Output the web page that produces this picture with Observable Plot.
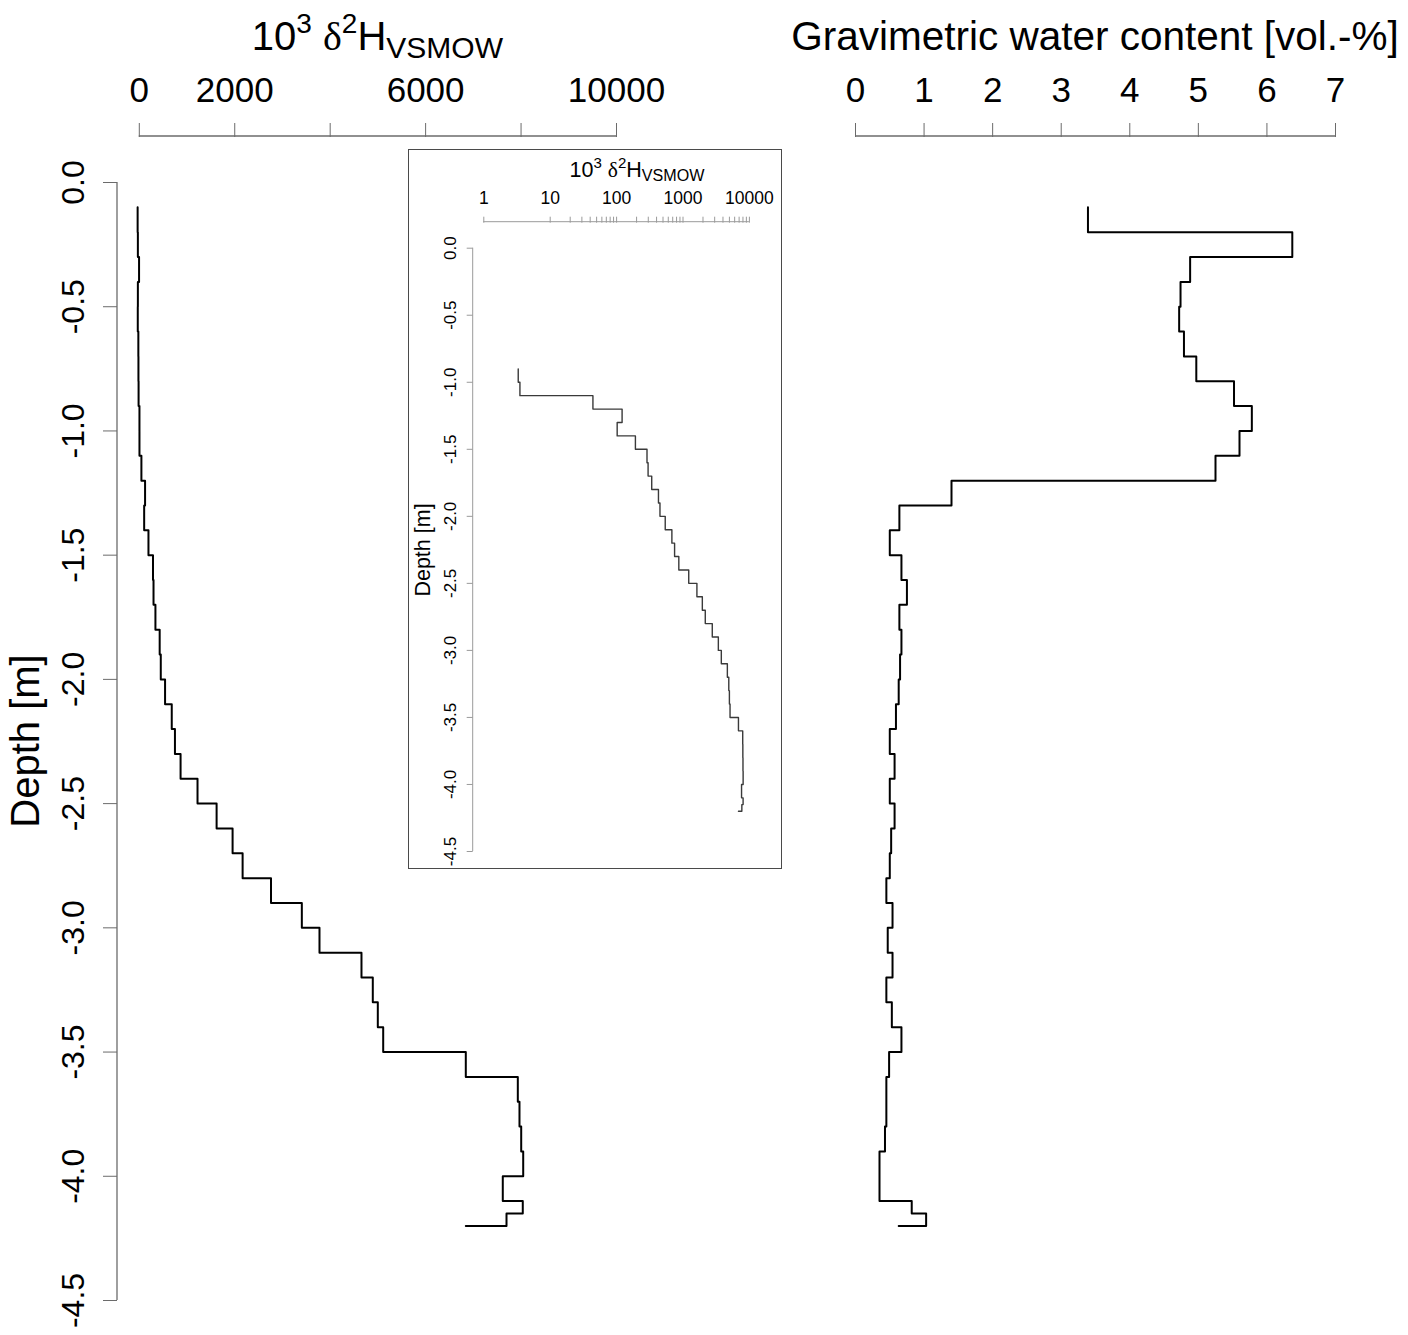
<!DOCTYPE html>
<html>
<head>
<meta charset="utf-8">
<script src="https://cdn.jsdelivr.net/npm/d3@7"></script>
<script src="https://cdn.jsdelivr.net/npm/@observablehq/plot@0.6"></script>
<style>
  html, body { margin: 0; padding: 0; background: #fff; }
  #fig { position: relative; width: 1408px; height: 1335px; overflow: hidden; background: #fff; }
  #fig svg { position: absolute; overflow: visible; }
</style>
</head>
<body>
<div id="fig"></div>
<script>
// ---------------- data ----------------
const depth = [-0.1, -0.2, -0.3, -0.4, -0.5, -0.6, -0.7, -0.8, -0.9, -1.0,
  -1.1, -1.2, -1.3, -1.4, -1.5, -1.6, -1.7, -1.8, -1.9, -2.0,
  -2.1, -2.2, -2.3, -2.4, -2.5, -2.6, -2.7, -2.8, -2.9, -3.0,
  -3.1, -3.2, -3.3, -3.4, -3.5, -3.6, -3.7, -3.8, -3.9, -4.0,
  -4.1, -4.15, -4.2];
// 10^3 delta2H VSMOW (per mil)
const isotope = [-35, -30, -5, -30, -32, -20, -18, -15, 3.3, 3.5,
  44, 121, 102, 192, 287, 298, 338, 427, 450, 540,
  680, 747, 865, 1220, 1620, 1955, 2165, 2760, 3406, 3776,
  4656, 4893, 4998, 5111, 6842, 7932, 7967, 8003, 8045, 7617,
  8036, 7695, 6842];
// gravimetric water content [vol.-%]
const water = [3.39, 6.37, 4.88, 4.74, 4.72, 4.79, 4.97, 5.52, 5.78, 5.60,
  5.25, 1.40, 0.64, 0.50, 0.67, 0.75, 0.64, 0.67, 0.65, 0.63,
  0.59, 0.50, 0.57, 0.50, 0.57, 0.52, 0.50, 0.45, 0.54, 0.47,
  0.54, 0.45, 0.53, 0.67, 0.49, 0.45, 0.45, 0.43, 0.35, 0.35,
  0.82, 1.03, 0.63];

const isoTicks = [0, 2000, 4000, 6000, 8000, 10000];
const isoTickLabels = ["0", "2000", "", "6000", "", "10000"];
const waterTicks = [0, 1, 2, 3, 4, 5, 6, 7];
const depthTicks = [0, -0.5, -1.0, -1.5, -2.0, -2.5, -3.0, -3.5, -4.0, -4.5];
const insetMajorTicks = [1, 10, 100, 1000, 10000];
const insetMinorTicks = [20, 30, 40, 50, 60, 70, 80, 90,
  200, 300, 400, 500, 600, 700, 800, 900,
  2000, 3000, 4000, 5000, 6000, 7000, 8000, 9000];

const titleIso = {base: "10", sup1: "3", delta: "\u03b4", sup2: "2", H: "H", sub: "VSMOW"};
const titleWater = "Gravimetric water content [vol.-%]";
const titleDepth = "Depth [m]";

// ---------------- helpers ----------------
const FONT = '"Liberation Sans", Arial, Helvetica, sans-serif';
const SERIF = '"Liberation Serif", "Times New Roman", serif';
const fig = document.getElementById("fig");
const rows = depth.map((d, i) => ({depth: d, iso: isotope[i], water: water[i]}));

function place(svg, left, top) {
  svg.style.left = left + "px";
  svg.style.top = top + "px";
  fig.appendChild(svg);
  return d3.select(svg);
}
function scaleOf(plot, name) {
  const s = plot.scale(name);
  return s.type === "log" ? d3.scaleLog(s.domain, s.range) : d3.scaleLinear(s.domain, s.range);
}
function isoTitle(sel, x, y, size) {
  const t = sel.append("text").attr("x", x).attr("y", y)
    .attr("text-anchor", "middle").attr("font-size", size)
    .attr("font-family", FONT).attr("fill", "#000");
  const up = -0.42 * size;
  t.append("tspan").text(titleIso.base);
  t.append("tspan").attr("dy", up).attr("font-size", 0.7 * size).text(titleIso.sup1);
  t.append("tspan").attr("dy", -up).text("\u00a0");
  t.append("tspan").attr("font-family", SERIF).text(titleIso.delta);
  t.append("tspan").attr("dy", up).attr("font-size", 0.7 * size).text(titleIso.sup2);
  t.append("tspan").attr("dy", -up).text(titleIso.H);
  t.append("tspan").attr("dy", 0.2 * size).attr("font-size", 0.75 * size).text(titleIso.sub);
}

// ---------------- left main panel ----------------
const leftPlot = Plot.plot({
  width: 1408, height: 1335,
  marginTop: 136, marginLeft: 117, marginRight: 0, marginBottom: 0,
  style: {background: "transparent", fontFamily: FONT, color: "#000", overflow: "visible"},
  x: {domain: [0, 10000], range: [138.8, 616]},
  y: {domain: [-4.5, 0], range: [1300, 182]},
  marks: [
    Plot.axisX(isoTicks, {anchor: "top", tickSize: 14, tickPadding: 21, fontSize: 35,
      stroke: "#6b6b6b", fill: "#000", label: null,
      tickFormat: d => isoTickLabels[isoTicks.indexOf(d)]}),
    Plot.axisY(depthTicks, {anchor: "left", tickSize: 14, tickPadding: 20, tickRotate: -90, fontSize: 32,
      stroke: "#6b6b6b", fill: "#000", label: null,
      tickFormat: d => d.toFixed(1)}),
    Plot.line(rows, {x: "iso", y: "depth", curve: "step-before", stroke: "#000", strokeWidth: 2})
  ]
});
const L = place(leftPlot, 0, 0);
{
  const x = scaleOf(leftPlot, "x"), y = scaleOf(leftPlot, "y");
  L.append("line").attr("x1", x(d3.min(isoTicks))).attr("x2", x(d3.max(isoTicks)))
    .attr("y1", 136).attr("y2", 136).attr("stroke", "#6b6b6b").attr("stroke-width", 1.3);
  L.append("line").attr("x1", 117).attr("x2", 117)
    .attr("y1", y(d3.max(depthTicks))).attr("y2", y(d3.min(depthTicks)))
    .attr("stroke", "#6b6b6b").attr("stroke-width", 1.3);
  isoTitle(L, (x(0) + x(10000)) / 2, 50, 40);
  L.append("text").attr("transform", `translate(39,${(y(0) + y(-4.5)) / 2}) rotate(-90)`)
    .attr("text-anchor", "middle").attr("font-size", 40).attr("font-family", FONT)
    .attr("fill", "#000").text(titleDepth);
}

// ---------------- right main panel ----------------
const rightPlot = Plot.plot({
  width: 1408, height: 1335,
  marginTop: 136, marginLeft: 0, marginRight: 0, marginBottom: 0,
  style: {background: "transparent", fontFamily: FONT, color: "#000", overflow: "visible"},
  x: {domain: [0, 7], range: [855, 1335]},
  y: {domain: [-4.5, 0], range: [1300, 182], axis: null},
  marks: [
    Plot.axisX(waterTicks, {anchor: "top", tickSize: 14, tickPadding: 21, fontSize: 35,
      stroke: "#6b6b6b", fill: "#000", label: null, tickFormat: d => String(d)}),
    Plot.line(rows, {x: "water", y: "depth", curve: "step-before", stroke: "#000", strokeWidth: 2})
  ]
});
const R = place(rightPlot, 0, 0);
{
  const x = scaleOf(rightPlot, "x");
  R.append("line").attr("x1", x(d3.min(waterTicks))).attr("x2", x(d3.max(waterTicks)))
    .attr("y1", 136).attr("y2", 136).attr("stroke", "#6b6b6b").attr("stroke-width", 1.3);
  R.append("text").attr("x", (x(0) + x(7)) / 2).attr("y", 50)
    .attr("text-anchor", "middle").attr("font-size", 40.5).attr("font-family", FONT)
    .attr("fill", "#000").text(titleWater);
}

// ---------------- inset (log scale) ----------------
const insetPlot = Plot.plot({
  width: 374, height: 720,
  marginTop: 72.7, marginLeft: 64.7, marginRight: 0, marginBottom: 0,
  style: {background: "#fff", fontFamily: FONT, color: "#000", overflow: "visible"},
  x: {type: "log", domain: [1, 10000], range: [75.3, 340.9]},
  y: {domain: [-4.5, 0], range: [702, 98.7]},
  marks: [
    Plot.axisX(insetMinorTicks, {anchor: "top", tickSize: 6, stroke: "#9a9a9a", label: null,
      tickFormat: () => ""}),
    Plot.axisX(insetMajorTicks, {anchor: "top", tickSize: 6, tickPadding: 12, fontSize: 17.5,
      stroke: "#9a9a9a", fill: "#000", label: null, tickFormat: d => String(d)}),
    Plot.axisY(depthTicks, {anchor: "left", tickSize: 6, tickPadding: 11, tickRotate: -90, fontSize: 17,
      stroke: "#9a9a9a", fill: "#000", label: null, tickFormat: d => d.toFixed(1)}),
    Plot.line(rows.filter(r => r.iso > 0), {x: "iso", y: "depth", curve: "step-before",
      stroke: "#3a3a3a", strokeWidth: 1.4})
  ]
});
insetPlot.style.outline = "1.5px solid #4a4a4a";
insetPlot.style.outlineOffset = "-1px";
const I = place(insetPlot, 408, 149);
{
  const x = scaleOf(insetPlot, "x"), y = scaleOf(insetPlot, "y");
  I.append("line").attr("x1", x(1)).attr("x2", x(10000))
    .attr("y1", 72.7).attr("y2", 72.7).attr("stroke", "#9a9a9a").attr("stroke-width", 1);
  I.append("line").attr("x1", 64.7).attr("x2", 64.7)
    .attr("y1", y(0)).attr("y2", y(-4.5)).attr("stroke", "#9a9a9a").attr("stroke-width", 1);
  isoTitle(I, 229, 28, 21.5);
  I.append("text").attr("transform", `translate(22,401) rotate(-90)`)
    .attr("text-anchor", "middle").attr("font-size", 21.5).attr("font-family", FONT)
    .attr("fill", "#000").text(titleDepth);
}
</script>
</body>
</html>
